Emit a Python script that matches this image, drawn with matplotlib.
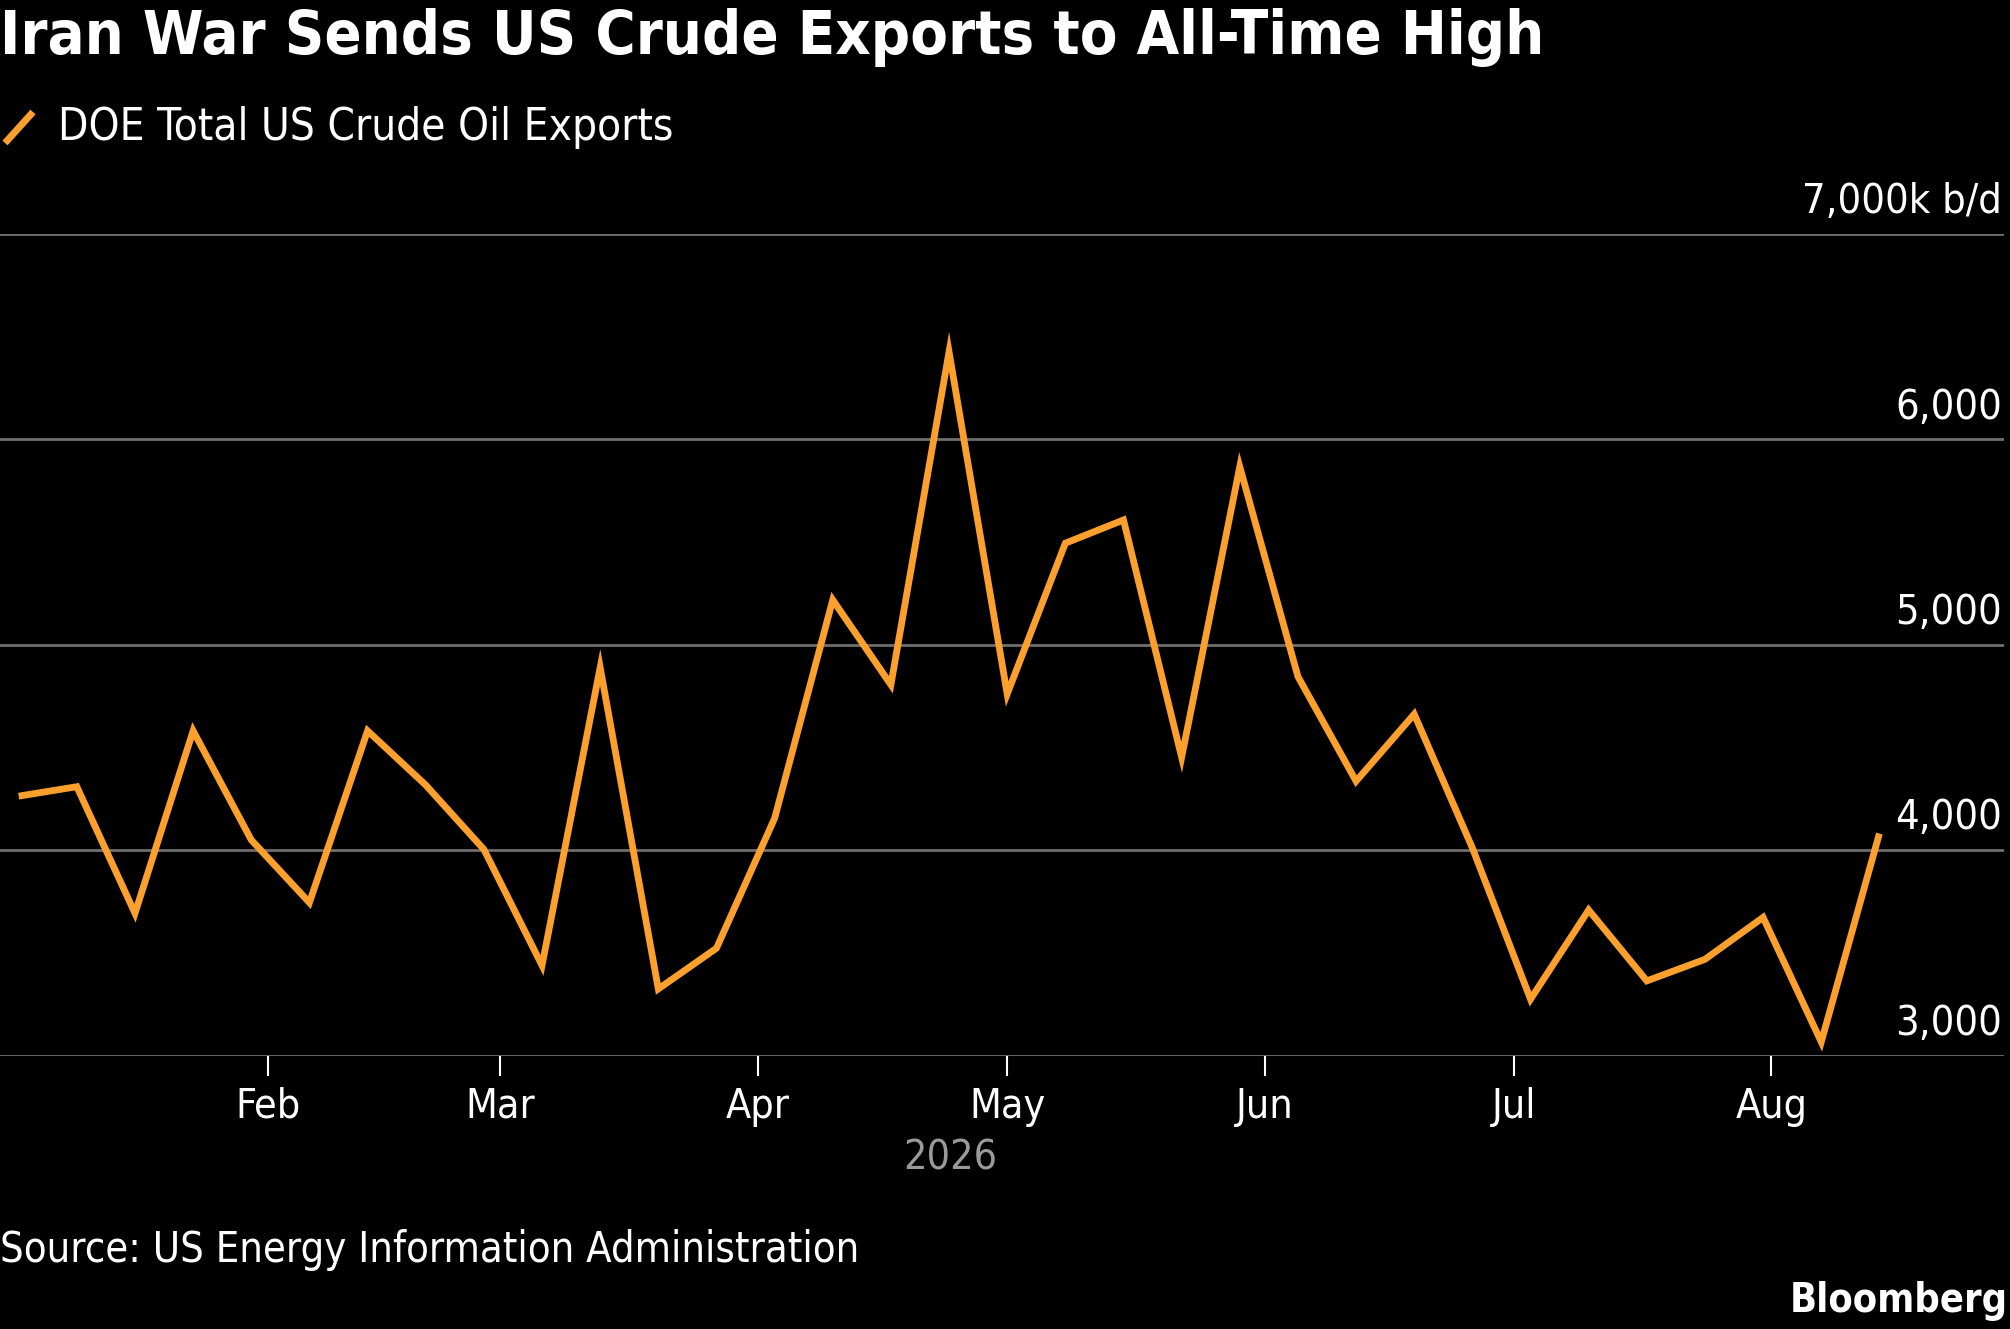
import os
import datetime as dt
import matplotlib
matplotlib.use("Agg")
import matplotlib.pyplot as plt
import matplotlib.font_manager as fm
from matplotlib.lines import Line2D
from matplotlib.transforms import blended_transform_factory, offset_copy

# ---------------- data ----------------
week_dates = [
    "2026-01-02", "2026-01-09", "2026-01-16", "2026-01-23", "2026-01-30",
    "2026-02-06", "2026-02-13", "2026-02-20", "2026-02-27",
    "2026-03-06", "2026-03-13", "2026-03-20", "2026-03-27",
    "2026-04-03", "2026-04-10", "2026-04-17", "2026-04-24",
    "2026-05-01", "2026-05-08", "2026-05-15", "2026-05-22", "2026-05-29",
    "2026-06-05", "2026-06-12", "2026-06-19", "2026-06-26",
    "2026-07-03", "2026-07-10", "2026-07-17", "2026-07-24", "2026-07-31",
    "2026-08-07", "2026-08-14",
]
exports_kbd = [
    4262, 4308, 3692, 4580, 4049,
    3744, 4580, 4316, 4003,
    3438, 4888, 3324, 3522,
    4154, 5217, 4804, 6424,
    4759, 5493, 5606, 4451, 5865,
    4844, 4335, 4661, 4010,
    3274, 3708, 3363, 3468, 3672,
    3066, 4080,
]
month_ticks = ["2026-02-01", "2026-03-01", "2026-04-01", "2026-05-01",
               "2026-06-01", "2026-07-01", "2026-08-01"]
month_labels = ["Feb", "Mar", "Apr", "May", "Jun", "Jul", "Aug"]
y_ticks = [3000, 4000, 5000, 6000, 7000]
y_labels = ["3,000", "4,000", "5,000", "6,000", "7,000k b/d"]

title = "Iran War Sends US Crude Exports to All-Time High"
series_name = "DOE Total US Crude Oil Exports"
year_label = "2026"
source = "Source: US Energy Information Administration"
brand = "Bloomberg"

# ---------------- fonts ----------------
def find_file(names):
    files = fm.findSystemFonts() + fm.findSystemFonts(
        fontpaths=[os.path.dirname(fm.findfont("DejaVu Sans"))])
    for n in names:
        for f in files:
            if os.path.basename(f).lower() == n.lower():
                return f
    return None

reg_file = find_file(["DejaVuSansCondensed.ttf", "LiberationSansNarrow-Regular.ttf"])
bold_file = find_file(["DejaVuSansCondensed-Bold.ttf", "LiberationSansNarrow-Bold.ttf"])

def fp(size, bold=False):
    f = bold_file if bold else reg_file
    if f:
        return fm.FontProperties(fname=f, size=size)
    return fm.FontProperties(family="DejaVu Sans", size=size,
                             weight="bold" if bold else "normal")

# ---------------- figure ----------------
W, H, DPI = 2010, 1329, 100
fig = plt.figure(figsize=(W / DPI, H / DPI), dpi=DPI, facecolor="black")

bottom_px, top_px, right_px = 1055.5, 233.5, 2004
ax = fig.add_axes([0, 1 - bottom_px / H, right_px / W, (bottom_px - top_px) / H])
ax.set_facecolor("black")
for s in ax.spines.values():
    s.set_visible(False)

x = [dt.datetime.fromisoformat(d) for d in week_dates]
orange = "#FBA02D"
ax.plot(x, exports_kbd, color=orange, lw=4.9, solid_joinstyle="miter",
        solid_capstyle="butt", zorder=3, clip_on=False)

ax.set_ylim(3000, 7000)
ax.set_xlim(dt.datetime(2025, 12, 30, 18), dt.datetime(2026, 8, 29, 0))

for yv in y_ticks:
    ax.axhline(yv, color="#6e6e6e", lw=2.0, zorder=1)

ax.set_yticks([])
ax.set_xticks([dt.datetime.fromisoformat(d) for d in month_ticks])
ax.set_xticklabels(month_labels)
ax.tick_params(axis="x", direction="out", length=14.4, width=1.5,
               color="white", pad=8.0, labelcolor="white")
for lab in ax.get_xticklabels():
    lab.set_fontproperties(fp(29.5))

trans = blended_transform_factory(ax.transAxes, ax.transData)
trans = offset_copy(trans, fig=fig, y=20.5, units="dots")
for yv, lab in zip(y_ticks, y_labels):
    ax.text(1 - 2.0 / right_px, yv, lab, transform=trans, ha="right",
            va="baseline", color="white", fontproperties=fp(29.8))

# year label
fig.text(950 / W, 1 - 1169 / H, year_label, ha="center", va="baseline",
         color="#9a9a9a", fontproperties=fp(29.5))

# title & legend
fig.text(0, 1 - 54 / H, title, ha="left", va="baseline", color="white",
         fontproperties=fp(44, bold=True))
fig.add_artist(Line2D([5 / W, 33 / W], [1 - 143 / H, 1 - 112 / H],
                      color=orange, lw=5, solid_capstyle="butt"))
fig.text(58 / W, 1 - 140 / H, series_name, ha="left", va="baseline",
         color="white", fontproperties=fp(31.6))

# footer
fig.text(0, 1 - 1262 / H, source, ha="left", va="baseline", color="white",
         fontproperties=fp(29.9))
fig.text(2008 / W, 1 - 1312 / H, brand, ha="right", va="baseline",
         color="white", fontproperties=fp(28.5, bold=True))

fig.savefig("out.png", dpi=DPI, facecolor="black")
